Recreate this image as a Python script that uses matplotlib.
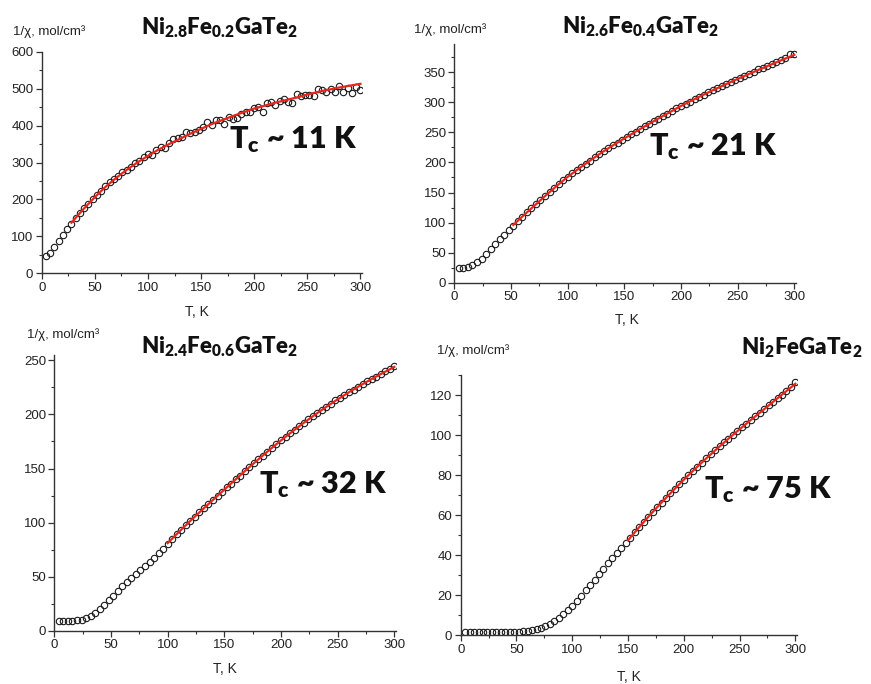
import numpy as np
import matplotlib
matplotlib.use('Agg')
import matplotlib.pyplot as plt
from matplotlib.ticker import MultipleLocator

plt.rcParams['font.family'] = ['Liberation Sans', 'DejaVu Sans']
plt.rcParams['mathtext.default'] = 'regular'

# temperature grid of the measurements, K
T = list(range(4, 301, 4))

# Ni2.8Fe0.2GaTe2
chi1 = [47, 54, 71, 88, 105, 120, 134, 149, 164, 178, 188, 201, 212, 224, 236, 246, 256, 264, 273,
        279, 289, 299, 305, 314, 322, 320, 334, 341, 338, 353, 363, 365, 369, 382, 379, 383, 389, 397,
        410, 402, 414, 416, 405, 424, 419, 420, 432, 438, 436, 448, 451, 438, 461, 463, 457, 466, 473,
        463, 461, 485, 479, 484, 484, 481, 499, 496, 491, 500, 490, 506, 491, 502, 488, 504, 496]
fitT1 = [28, 35, 40, 50, 60, 70, 80, 90, 100, 110, 120, 130, 140, 150, 160, 170, 180, 190, 200,
         210, 220, 230, 240, 250, 260, 270, 280, 290, 300]
fit1 = [137, 160, 176, 206, 234, 258, 280, 300, 318, 335, 350, 364, 378, 391, 404, 415, 426, 436, 446,
        454, 462, 469, 476, 484, 491, 497, 503, 508, 513]

# Ni2.6Fe0.4GaTe2
chi2 = [24, 24, 26, 29, 34, 40, 48, 56, 64, 72, 79, 87, 95, 103, 110, 117, 124, 131, 137, 144, 151,
        157, 164, 170, 176, 182, 187, 193, 198, 203, 209, 214, 219, 224, 229, 233, 238, 242, 247, 251,
        256, 260, 264, 269, 273, 277, 281, 285, 290, 294, 298, 301, 305, 309, 313, 317, 320, 324, 327,
        331, 334, 337, 341, 344, 347, 351, 355, 357, 361, 364, 367, 370, 373, 381, 380]
fitT2 = [52, 60, 70, 80, 90, 100, 110, 120, 130, 140, 150, 160, 170, 180, 190, 200, 210, 220, 230,
         240, 250, 260, 270, 280, 290, 300]
fit2 = [96, 110, 127, 144, 160.5, 176, 190, 203.5, 216.5, 228.5, 240, 251.3, 262.3, 273, 283.5, 294,
        303.5, 312.8, 321.8, 330.5, 339, 347.2, 355.3, 363.3, 371.2, 379]

# Ni2.4Fe0.6GaTe2
chi3 = [9.3, 9.3, 9.3, 9.3, 9.5, 10.3, 11.8, 13.9, 16.7, 20.5, 24, 28.3, 32.5, 36.8, 41, 45, 48.5,
        52.5, 56, 60, 63.5, 67.5, 71.5, 75.5, 80, 85, 89.5, 93.5, 97.5, 101.5, 105.5, 109.5, 113.5, 117,
        121, 125, 128.5, 132.5, 136, 140, 143.5, 147.5, 151, 155, 158.5, 162, 165.5, 169, 172.5, 176,
        179.5, 182.5, 186, 189, 192, 195.5, 198.5, 201.5, 204, 207, 210, 213, 215.5, 218, 220.5, 223,
        225.5, 228, 230.5, 233, 235, 237.5, 240, 242, 245]
fitT3 = [100, 110, 120, 130, 140, 150, 160, 170, 180, 190, 200, 210, 220, 230, 240, 250, 260, 270,
         280, 290, 300]
fit3 = [81, 91.4, 101.6, 111.4, 121, 130.5, 140, 149.4, 158.5, 167.4, 176, 184.3, 192.2, 199.8, 207.1,
        214, 220.6, 226.9, 232.8, 238.5, 244]

# Ni2FeGaTe2
chi4 = [1.4, 1.4, 1.4, 1.4, 1.4, 1.4, 1.4, 1.4, 1.5, 1.5, 1.5, 1.6, 1.7, 1.9, 2.2, 2.6, 3.1, 3.8, 4.6,
        5.6, 7.0, 8.6, 10.4, 12.5, 14.8, 17.2, 19.8, 22.4, 25.1, 27.8, 30.5, 33.2, 35.9, 38.6, 41.2, 43.8,
        46.3, 48.8, 51.4, 54.0, 56.5, 59.0, 61.5, 63.9, 66.3, 68.7, 71.0, 73.3, 75.5, 77.7, 79.9, 82.1,
        84.2, 86.3, 88.3, 90.3, 92.3, 94.3, 96.3, 98.2, 100.1, 102.0, 103.9, 105.7, 107.5, 109.3, 111.1,
        112.9, 114.8, 116.6, 118.4, 120.2, 122.0, 123.8, 126.5]
fitT4 = [150, 160, 170, 180, 190, 200, 210, 220, 230, 240, 250, 260, 270, 280, 290, 300]
fit4 = [47.5, 54, 60.3, 66.3, 72.1, 77.7, 83.1, 88.3, 93.3, 98.2, 102.9, 107.5, 112, 116.6, 121.1, 125.6]

titles = [r'$\mathregular{Ni_{2.8}Fe_{0.2}GaTe_2}$', r'$\mathregular{Ni_{2.6}Fe_{0.4}GaTe_2}$',
          r'$\mathregular{Ni_{2.4}Fe_{0.6}GaTe_2}$', r'$\mathregular{Ni_2FeGaTe_2}$']
tc_labels = [r'$\mathregular{T_c}$ ~ 11 K', r'$\mathregular{T_c}$ ~ 21 K',
             r'$\mathregular{T_c}$ ~ 32 K', r'$\mathregular{T_c}$ ~ 75 K']

W, H = 871, 684
fig = plt.figure(figsize=(W / 100, H / 100), dpi=100)
fig.patch.set_facecolor('white')


def box(l, t, r, b):
    return [l / W, 1 - b / H, (r - l) / W, (b - t) / H]


def px(x, y):
    return x / W, 1 - y / H


panels = [
    dict(pos=box(41.7, 51.7, 361.5, 273.3), ymax=600, major=100, minor=50, chi=chi1, fT=fitT1, f=fit1,
         ylab=(13, 32), xlab=(197, 312), title=(219, 28), tc=(293, 140)),
    dict(pos=box(454.3, 44, 795.5, 282.7), ymax=397, major=50, minor=25, chi=chi2, fT=fitT2, f=fit2,
         ylab=(414, 30), xlab=(627, 320), title=(640, 27), tc=(713, 147)),
    dict(pos=box(54.3, 355, 395.5, 630.7), ymax=255, major=50, minor=25, chi=chi3, fT=fitT3, f=fit3,
         ylab=(27, 335), xlab=(225, 669), title=(219, 347), tc=(323, 485)),
    dict(pos=box(460.7, 375, 796.5, 635.3), ymax=130, major=20, minor=10, chi=chi4, fT=fitT4, f=fit4,
         ylab=(437, 351), xlab=(629, 677), title=(802, 348), tc=(768, 490)),
]

for i, p in enumerate(panels):
    ax = fig.add_axes(p['pos'])
    ax.plot(T, p['chi'], 'o', ms=4.6, mfc='none', mec='#1a1a1a', mew=0.8, zorder=2)
    ax.plot(p['fT'], p['f'], '-', color='#e8261c', lw=1.6, zorder=3)
    ax.set_xlim(0, 301)
    ax.set_ylim(0, p['ymax'])
    ax.xaxis.set_major_locator(MultipleLocator(50))
    ax.xaxis.set_minor_locator(MultipleLocator(25))
    ax.yaxis.set_major_locator(MultipleLocator(p['major']))
    ax.yaxis.set_minor_locator(MultipleLocator(p['minor']))
    for s in ['top', 'right']:
        ax.spines[s].set_visible(False)
    for s in ['left', 'bottom']:
        ax.spines[s].set_color('#333333')
        ax.spines[s].set_linewidth(1.0)
    ax.tick_params(which='major', direction='out', length=4, width=0.9, color='#333333',
                   labelsize=9.5, labelcolor='#222222', pad=2)
    ax.tick_params(which='minor', direction='out', length=2.5, width=0.8, color='#333333')
    ax.patch.set_alpha(0)

    fig.text(*px(*p['ylab']), '1/χ, mol/cm³', ha='left', va='center', fontsize=9.5, color='#222222')
    fig.text(*px(*p['xlab']), 'T, K', ha='center', va='center', fontsize=10, color='#222222')
    fig.text(*px(*p['title']), titles[i], ha='center', va='center', fontsize=16,
             family=['Lato', 'DejaVu Sans'], weight='heavy', color='#111111')
    fig.text(*px(*p['tc']), tc_labels[i], ha='center', va='center', fontsize=22,
             family=['Lato', 'DejaVu Sans'], weight='heavy', color='#111111')

fig.savefig('out.png', dpi=100, facecolor='white')
